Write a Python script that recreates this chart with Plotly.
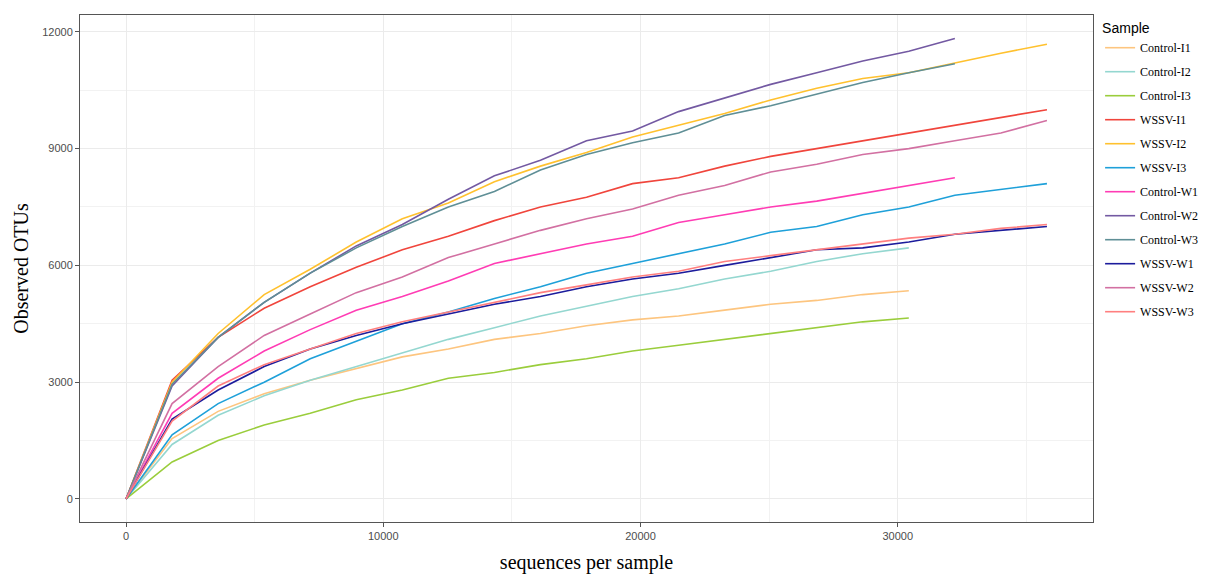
import plotly.graph_objects as go

depth_step = 1790
samples = ["Control-I1", "Control-I2", "Control-I3", "WSSV-I1", "WSSV-I2", "WSSV-I3",
           "Control-W1", "Control-W2", "Control-W3", "WSSV-W1", "WSSV-W2", "WSSV-W3"]

control_i1 = [0, 1550, 2250, 2700, 3050, 3350, 3650, 3850, 4100, 4250, 4450, 4600, 4700, 4850, 5000, 5100, 5250, 5350]
control_i2 = [0, 1400, 2150, 2650, 3050, 3400, 3750, 4100, 4400, 4700, 4950, 5200, 5400, 5650, 5850, 6100, 6300, 6450]
control_i3 = [0, 950, 1500, 1900, 2200, 2550, 2800, 3100, 3250, 3450, 3600, 3800, 3950, 4100, 4250, 4400, 4550, 4650]
wssv_i1 = [0, 3050, 4150, 4900, 5450, 5950, 6400, 6750, 7150, 7500, 7750, 8100, 8250, 8550, 8800, 9000, 9200, 9400, 9600, 9800, 10000]
wssv_i2 = [0, 3000, 4250, 5250, 5900, 6600, 7200, 7600, 8150, 8550, 8900, 9300, 9600, 9900, 10250, 10550, 10800, 10950, 11200, 11450, 11680]
wssv_i3 = [0, 1650, 2450, 3000, 3600, 4050, 4500, 4800, 5150, 5450, 5800, 6050, 6300, 6550, 6850, 7000, 7300, 7500, 7800, 7950, 8100]
control_w1 = [0, 2200, 3100, 3800, 4350, 4850, 5200, 5600, 6050, 6300, 6550, 6750, 7100, 7300, 7500, 7650, 7850, 8050, 8250]
control_w2 = [0, 2900, 4150, 5050, 5800, 6500, 7050, 7700, 8300, 8700, 9200, 9450, 9950, 10300, 10650, 10950, 11250, 11500, 11830]
control_w3 = [0, 2950, 4150, 5050, 5800, 6450, 7000, 7500, 7900, 8450, 8850, 9150, 9400, 9850, 10100, 10400, 10700, 10950, 11180]
wssv_w1 = [0, 2050, 2800, 3400, 3850, 4200, 4500, 4750, 5000, 5200, 5450, 5650, 5800, 6000, 6200, 6400, 6450, 6600, 6800, 6900, 7000]
wssv_w2 = [0, 2450, 3400, 4200, 4750, 5300, 5700, 6200, 6550, 6900, 7200, 7450, 7800, 8050, 8400, 8600, 8850, 9000, 9200, 9400, 9720]
wssv_w3 = [0, 2000, 2900, 3450, 3850, 4250, 4550, 4800, 5050, 5300, 5500, 5700, 5850, 6100, 6250, 6400, 6550, 6700, 6800, 6950, 7050]

series = [control_i1, control_i2, control_i3, wssv_i1, wssv_i2, wssv_i3,
          control_w1, control_w2, control_w3, wssv_w1, wssv_w2, wssv_w3]
colors = ["#FDC57F", "#94D7D0", "#9ACD3C", "#F0453C", "#FFC12E", "#1EA0D9",
          "#FF3CB4", "#7359A2", "#5F8F96", "#1C1C9C", "#D270A2", "#FF7F7F"]

x_ticks = [0, 10000, 20000, 30000]
y_ticks = [0, 3000, 6000, 9000, 12000]

fig = go.Figure()
for name, vals, col in zip(samples, series, colors):
    xs = [i * depth_step for i in range(len(vals))]
    fig.add_trace(go.Scatter(x=xs, y=vals, mode="lines", name=name, legendgroup=name,
                             line=dict(color=col, width=1.6)))

axis_common = dict(showline=True, mirror=True, linecolor="#555555", linewidth=1,
                   showgrid=True, gridcolor="#EBEBEB", gridwidth=1, zeroline=False,
                   ticks="outside", ticklen=4, tickcolor="#555555", automargin=False,
                   tickfont=dict(family="Liberation Sans, Arial", size=11, color="#4D4D4D"),
                   tickformat="d")

fig.update_layout(
    width=1201, height=566,
    margin=dict(l=72, r=116, t=7, b=52, autoexpand=False),
    plot_bgcolor="white", paper_bgcolor="white",
    xaxis=dict(range=[-1790, 37590], tickvals=x_ticks,
               minor=dict(dtick=5000, tick0=0, showgrid=True, gridcolor="#F2F2F2", ticks=""),
               title=dict(text="sequences per sample", standoff=20,
                          font=dict(family="Liberation Serif, Times New Roman", size=20, color="black")),
               **axis_common),
    yaxis=dict(range=[-592, 12432], tickvals=y_ticks,
               minor=dict(dtick=1500, tick0=0, showgrid=True, gridcolor="#F2F2F2", ticks=""),
               title=dict(text="Observed OTUs", standoff=8,
                          font=dict(family="Liberation Serif, Times New Roman", size=20, color="black")),
               **axis_common),
    legend=dict(x=1.007, y=1.0, xanchor="left", yanchor="top",
                title=dict(text="Sample", font=dict(family="Liberation Sans, Arial", size=14, color="black")),
                font=dict(family="Liberation Serif, Times New Roman", size=12, color="black"),
                tracegroupgap=5, itemwidth=30, bgcolor="rgba(0,0,0,0)"),
)

fig.write_html("out.html")
